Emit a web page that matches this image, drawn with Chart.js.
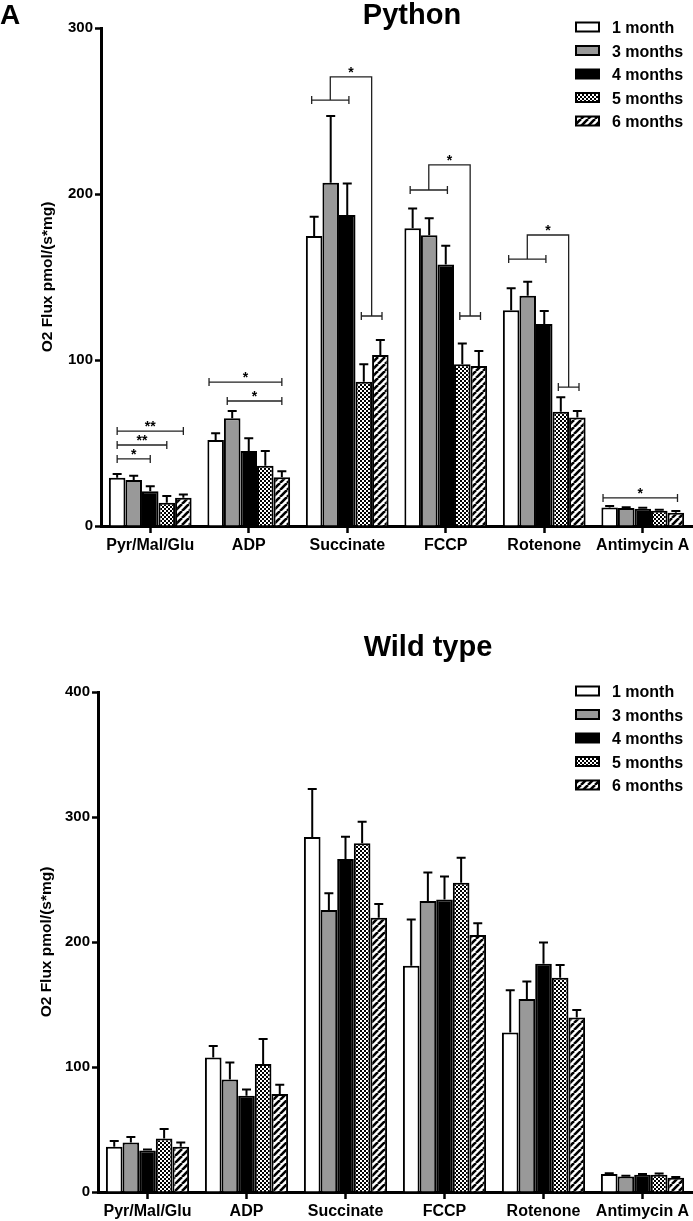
<!DOCTYPE html>
<html>
<head>
<meta charset="utf-8">
<script src="https://cdn.jsdelivr.net/npm/chart.js@4.4.1/dist/chart.umd.min.js"></script>
<style>
  html, body { margin: 0; padding: 0; background: #fff; }
  canvas { display: block; }
</style>
</head>
<body>
<canvas id="pythonChart" width="693" height="610"></canvas>
<canvas id="wildChart" width="693" height="611"></canvas>
<script>
const categories = ['Pyr/Mal/Glu', 'ADP', 'Succinate', 'FCCP', 'Rotenone', 'Antimycin A']
const seriesLabels = ['1 month', '3 months', '4 months', '5 months', '6 months']

// Python - mean O2 flux per age group
const py1 = [29, 51.8, 174.7, 179.3, 130, 11.2]
const py3 = [27.7, 64.9, 206.8, 175.1, 138.7, 10.8]
const py4 = [21, 45.2, 187.3, 157.6, 121.7, 10.4]
const py5 = [14, 36.3, 86.9, 97.4, 68.9, 9.2]
const py6 = [17, 29.3, 103, 96.4, 65.3, 8]
// Python - error (upper)
const pyErr1 = [2.3, 4, 11.6, 11.9, 13.2, 0.8]
const pyErr3 = [2.6, 4.4, 40.2, 10.3, 8.5, 0.5]
const pyErr4 = [3, 7.6, 19.1, 11.3, 7.8, 0.6]
const pyErr5 = [4, 8.9, 10.5, 12.6, 8.6, 0.6]
const pyErr6 = [2, 3.7, 9, 9, 4, 1]

// Wild type - mean O2 flux per age group
const wt1 = [36.3, 107.7, 284, 181, 127.7, 14.4]
const wt3 = [39.7, 90.1, 225.6, 232.8, 154.4, 12.5]
const wt4 = [33.3, 77, 266.4, 234, 182.7, 13.9]
const wt5 = [42.9, 102.4, 279, 247.5, 171.5, 13.9]
const wt6 = [36.3, 78.4, 219.4, 205.6, 139.7, 11.5]
// Wild type - error (upper)
const wtErr1 = [4.5, 9.1, 38.4, 37, 33.7, 0.6]
const wtErr3 = [4.3, 13.6, 13.4, 22.9, 14.1, 0.5]
const wtErr4 = [0.7, 5.1, 17.9, 18.5, 17, 0.5]
const wtErr5 = [7.5, 20, 17.3, 20, 10.1, 1]
const wtErr6 = [3.4, 7.5, 11, 9.4, 5.9, 0.5]

// significance: [category, fromSeries, toSeries, value, stars]
const pySig = [
  [0, 0, 2, 40.4, '*'],
  [0, 0, 3, 48.8, '**'],
  [0, 0, 4, 57.2, '**'],
  [1, -0.4, 4, 86.7, '*'],
  [1, 0.7, 4, 75.3, '*'],
  [5, -0.4, 4.1, 16.9, '*']
]
// group comparisons: [category, leftValue, rightValue, topValue, stars]
const pyGroupSig = [
  [2, 256.6, 126.5, 270.5, '*'],
  [3, 202.4, 126.5, 217.5, '*'],
  [4, 160.8, 83.7, 175.3, '*']
]

const fontFamily = 'Arial, "Liberation Sans", Helvetica, sans-serif'
Chart.defaults.font.family = fontFamily
Chart.defaults.font.weight = 'bold'
Chart.defaults.color = '#000'

function checkerPattern() {
  const c = document.createElement('canvas')
  c.width = 4; c.height = 4
  const g = c.getContext('2d')
  g.fillStyle = '#fff'; g.fillRect(0, 0, 4, 4)
  g.fillStyle = '#000'; g.fillRect(0, 0, 2, 2); g.fillRect(2, 2, 2, 2)
  return g.createPattern(c, 'repeat')
}
function stripePattern() {
  const c = document.createElement('canvas')
  c.width = 7; c.height = 7
  const g = c.getContext('2d')
  g.fillStyle = '#fff'; g.fillRect(0, 0, 7, 7)
  g.strokeStyle = '#000'; g.lineWidth = 2.6
  for (const o of [-7, 0, 7]) {
    g.beginPath(); g.moveTo(o, 7); g.lineTo(o + 7, 0); g.stroke()
  }
  return g.createPattern(c, 'repeat')
}
const fills = ['#fff', '#999', '#000', checkerPattern(), stripePattern()]

function extrasPlugin(cfg) {
  function seriesX(chart, cat, s) {
    const x0 = chart.getDatasetMeta(0).data[cat].x
    const step = chart.getDatasetMeta(1).data[cat].x - x0
    return x0 + s * step
  }
  function star(ctx, x, y, txt) {
    ctx.font = 'bold 14px ' + fontFamily
    ctx.textAlign = 'center'
    ctx.textBaseline = 'alphabetic'
    ctx.fillStyle = '#000'
    ctx.fillText(txt, x, y + 4)
  }
  function bracket(ctx, xa, xb, y) {
    ctx.beginPath()
    ctx.moveTo(xa, y); ctx.lineTo(xb, y)
    ctx.moveTo(xa, y - 4); ctx.lineTo(xa, y + 4)
    ctx.moveTo(xb, y - 4); ctx.lineTo(xb, y + 4)
    ctx.stroke()
  }
  return {
    id: 'extras',
    afterDatasetsDraw(chart) {
      const ctx = chart.ctx
      const yScale = chart.scales.y
      ctx.save()
      // error bars, upward only
      ctx.strokeStyle = '#000'
      ctx.lineWidth = 2
      chart.data.datasets.forEach((ds, i) => {
        chart.getDatasetMeta(i).data.forEach((bar, j) => {
          const top = yScale.getPixelForValue(ds.data[j] + cfg.errors[i][j])
          ctx.beginPath()
          ctx.moveTo(bar.x, bar.y); ctx.lineTo(bar.x, top)
          ctx.moveTo(bar.x - 4.5, top); ctx.lineTo(bar.x + 4.5, top)
          ctx.stroke()
        })
      })
      // significance brackets
      ctx.strokeStyle = '#222'
      ctx.lineWidth = 1.3
      cfg.sig.forEach(([cat, a, b, v, txt]) => {
        const xa = seriesX(chart, cat, a), xb = seriesX(chart, cat, b)
        const y = yScale.getPixelForValue(v)
        bracket(ctx, xa, xb, y)
        star(ctx, (xa + xb) / 2, y - 4, txt)
      })
      cfg.groupSig.forEach(([cat, lv, rv, tv, txt]) => {
        const l0 = seriesX(chart, cat, -0.15), l1 = seriesX(chart, cat, 2.1)
        const r0 = seriesX(chart, cat, 2.85), r1 = seriesX(chart, cat, 4.1)
        const ly = yScale.getPixelForValue(lv), ry = yScale.getPixelForValue(rv)
        const ty = yScale.getPixelForValue(tv)
        const lm = (l0 + l1) / 2, rm = (r0 + r1) / 2
        bracket(ctx, l0, l1, ly)
        bracket(ctx, r0, r1, ry)
        ctx.beginPath()
        ctx.moveTo(lm, ly); ctx.lineTo(lm, ty); ctx.lineTo(rm, ty); ctx.lineTo(rm, ry)
        ctx.stroke()
        star(ctx, (lm + rm) / 2, ty - 4, txt)
      })
      ctx.restore()
    },
    afterDraw(chart) {
      const ctx = chart.ctx
      const area = chart.chartArea
      ctx.save()
      // legend
      ctx.font = 'bold 16px ' + fontFamily
      ctx.textAlign = 'left'
      ctx.textBaseline = 'alphabetic'
      chart.data.datasets.forEach((ds, i) => {
        const cy = area.top - 1 + i * 23.5
        ctx.fillStyle = ds.backgroundColor
        ctx.fillRect(576, cy - 4.5, 23, 9)
        ctx.strokeStyle = '#000'
        ctx.lineWidth = 2
        ctx.strokeRect(576, cy - 4.5, 23, 9)
        ctx.fillStyle = '#000'
        ctx.fillText(ds.label, 612, cy + 6)
      })
      // chart title + panel letter
      ctx.font = 'bold 29px ' + fontFamily
      ctx.textAlign = 'center'
      ctx.fillText(cfg.title, cfg.titleX, cfg.titleY)
      if (cfg.letter) {
        ctx.font = 'bold 28px ' + fontFamily
        ctx.textAlign = 'left'
        ctx.fillText(cfg.letter, 0, 24)
      }
      ctx.restore()
    }
  }
}

function makeChart(id, means, errors, opts) {
  const datasets = means.map((d, i) => ({
    label: seriesLabels[i],
    data: d,
    backgroundColor: fills[i],
    borderColor: '#000',
    borderWidth: 2,
    categoryPercentage: 0.84,
    barPercentage: 1
  }))
  return new Chart(document.getElementById(id), {
    type: 'bar',
    data: { labels: categories, datasets: datasets },
    options: {
      responsive: false,
      animation: false,
      events: [],
      layout: { padding: { left: 0, top: opts.top, right: 1, bottom: 0 } },
      plugins: { legend: { display: false }, tooltip: { enabled: false } },
      scales: {
        x: {
          afterFit: s => { s.height = opts.xHeight },
          grid: { display: true, offset: false, drawOnChartArea: false, drawTicks: true,
                  tickLength: 7, tickWidth: 2.5, tickColor: '#000' },
          border: { display: true, color: '#000', width: 3 },
          ticks: { font: { size: 16, weight: 'bold' }, padding: 3, maxRotation: 0, autoSkip: false }
        },
        y: {
          min: 0,
          max: opts.max,
          afterFit: s => { s.width = opts.yWidth },
          grid: { display: true, drawOnChartArea: false, drawTicks: true,
                  tickLength: 6, tickWidth: 2.5, tickColor: '#000' },
          border: { display: true, color: '#000', width: 3 },
          ticks: { stepSize: 100, font: { size: 15, weight: 'bold' }, padding: 2 },
          title: {
            display: true,
            text: 'O2 Flux pmol/(s*mg)',
            font: { size: 15.5, weight: 'bold' },
            padding: { top: opts.titlePad, bottom: 0 }
          }
        }
      }
    },
    plugins: [extrasPlugin({
      errors: errors,
      sig: opts.sig || [],
      groupSig: opts.groupSig || [],
      title: opts.title,
      titleX: opts.titleX,
      titleY: opts.titleY,
      letter: opts.letter
    })]
  })
}

makeChart('pythonChart',
  [py1, py3, py4, py5, py6],
  [pyErr1, pyErr3, pyErr4, pyErr5, pyErr6],
  { top: 28, xHeight: 84, yWidth: 101, max: 300, titlePad: 38,
    sig: pySig, groupSig: pyGroupSig,
    title: 'Python', titleX: 412, titleY: 24, letter: 'A' })

makeChart('wildChart',
  [wt1, wt3, wt4, wt5, wt6],
  [wtErr1, wtErr3, wtErr4, wtErr5, wtErr6],
  { top: 82, xHeight: 29, yWidth: 98, max: 400, titlePad: 37,
    title: 'Wild type', titleX: 428, titleY: 46 })
</script>
</body>
</html>
